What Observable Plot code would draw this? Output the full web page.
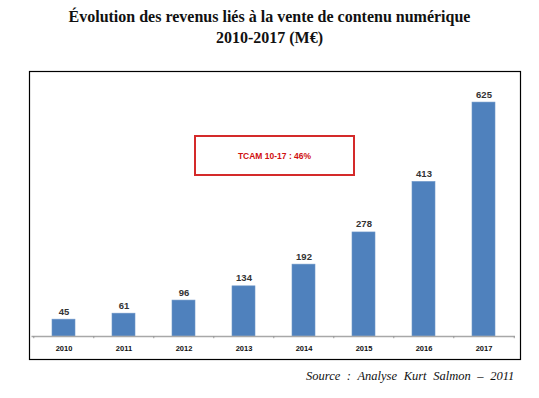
<!DOCTYPE html>
<html>
<head>
<meta charset="utf-8">
<script src="https://cdn.jsdelivr.net/npm/d3@7"></script>
<script src="https://cdn.jsdelivr.net/npm/@observablehq/plot@0.6"></script>
<style>
  html, body { margin: 0; padding: 0; background: #fff; }
  #page { position: relative; width: 539px; height: 398px; overflow: hidden; }
  #title { position: absolute; left: 0; top: 6px; width: 539px; text-align: center;
    font-family: "Liberation Serif", serif; font-weight: bold; font-size: 16px; line-height: 21px; color: #111; }
  #chart { position: absolute; left: 0; top: 60px; }
  #note { position: absolute; left: 194px; top: 135px; width: 157px; height: 37px;
    border: 2px solid #d42a2a; display: flex; align-items: center; justify-content: center;
    font-family: "Liberation Sans", Arial, sans-serif; font-weight: bold; font-size: 8.5px; color: #d01010; }
  #source { position: absolute; left: 306px; top: 369px; font-family: "Liberation Serif", serif;
    font-style: italic; font-size: 12.5px; word-spacing: 3.5px; color: #111; }
</style>
</head>
<body>
<div id="page">
  <div id="title">Évolution des revenus liés à la vente de contenu numérique<br>2010-2017 (M€)</div>
  <div id="chart"></div>
  <div id="note">TCAM 10-17 : 46%</div>
  <div id="source">Source : Analyse Kurt Salmon – 2011</div>
</div>
<script>
const years = ["2010", "2011", "2012", "2013", "2014", "2015", "2016", "2017"];
const revenues = [45, 61, 96, 134, 192, 278, 413, 625];
const data = years.map((y, i) => ({year: y, value: revenues[i]}));

const W = 539, H = 310;
const mL = 31.5, mR = 24;
const step = (W - mL - mR) / years.length;

const chart = Plot.plot({
  width: W,
  height: H,
  marginLeft: mL,
  marginRight: mR,
  marginTop: 14,
  marginBottom: 34,
  x: {domain: years, paddingInner: 0.62, paddingOuter: 0.31, label: null, tickSize: 0, tickPadding: 9},
  y: {domain: [0, 700], axis: null},
  style: {fontFamily: "Liberation Sans, Arial, sans-serif", background: "#fff"},
  marks: [
    Plot.frame({stroke: "#000", strokeWidth: 1.2, insetLeft: -2.5, insetRight: -5, insetTop: -3, insetBottom: -23}),
    Plot.barY(data, {x: "year", y: "value", fill: "#4f81bd", stroke: "#6f97c8", strokeWidth: 0.6}),
    Plot.ruleY([0], {stroke: "#a8a8a8", strokeWidth: 1.5}),
    Plot.ruleX(data, {x: "year", dx: -step / 2, y1: 0, y2: -6, stroke: "#999"}),
    Plot.ruleX([data[data.length - 1]], {x: "year", dx: step / 2, y1: 0, y2: -6, stroke: "#999"}),
    Plot.text(data, {x: "year", y: "value", text: d => String(d.value), lineAnchor: "bottom", dy: -5,
      fontSize: 9.5, fill: "#333", fontWeight: "bold"}),
    Plot.axisX({tickSize: 0, tickPadding: 9, fontSize: 7.5, fontWeight: "bold", fill: "#111", label: null})
  ]
});
document.getElementById("chart").appendChild(chart);
</script>
</body>
</html>
